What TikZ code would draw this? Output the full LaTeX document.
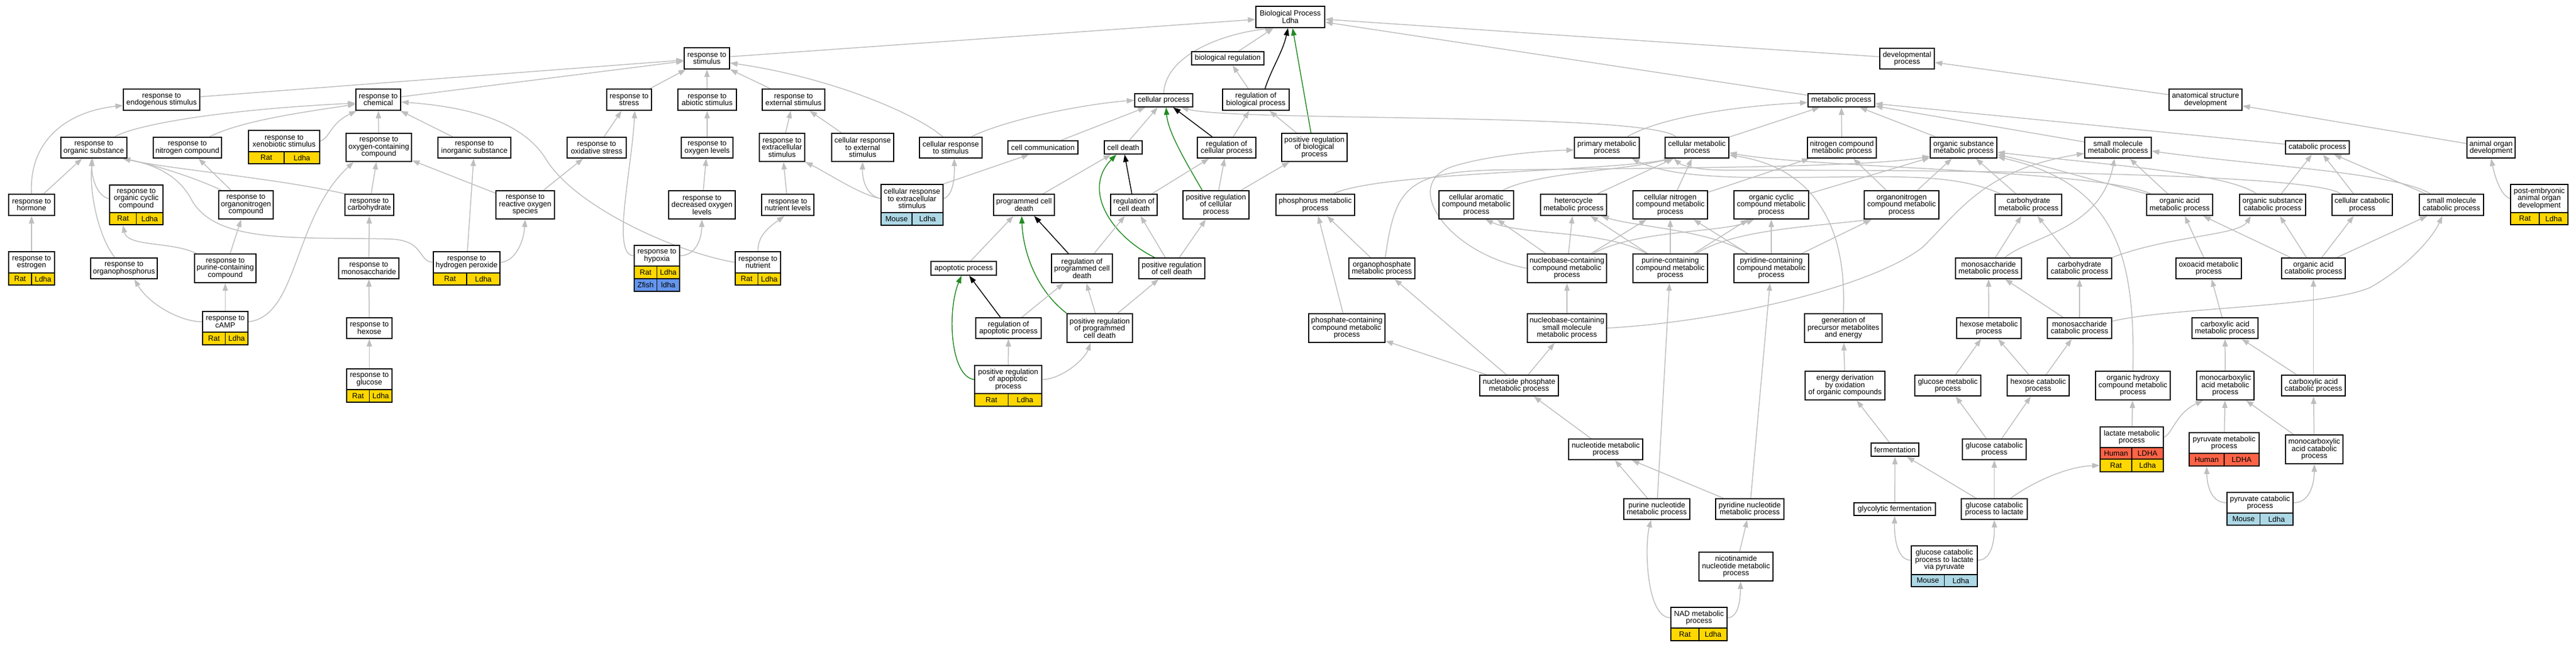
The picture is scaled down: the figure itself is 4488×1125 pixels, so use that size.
\documentclass[tikz,border=0pt]{standalone}
\usepackage{fontspec}
\setmainfont{Liberation Sans}
\usetikzlibrary{arrows.meta}
\pgfdeclarelayer{bg}
\pgfsetlayers{bg,main}
\definecolor{edgec}{RGB}{190,190,190}
\definecolor{ratc}{RGB}{255,215,0}
\definecolor{mousec}{RGB}{173,216,230}
\definecolor{fishc}{RGB}{100,149,237}
\definecolor{humanc}{RGB}{255,99,71}
\definecolor{pregc}{RGB}{34,139,34}
\newcommand\gofont{\fontsize{6.5}{6.25}\selectfont}
\newcommand\gonode[6]{\node[gb, minimum width={(#4-#2)*0.5pt}, minimum height={(#5-#3)*0.5pt}] (#1) at ({#2+(#4-#2)/2},{(#3+#5)/2}) {#6};}
\newcommand\gorow[8]{%
\node[cell, fill=#6, minimum width={(#4-#2)*0.25pt}, minimum height={(#5-#3)*0.5pt}] (#1a) at ({#2+(#4-#2)/4},{(#3+#5)/2}) {#7};%
\node[cell, fill=#6, minimum width={(#4-#2)*0.25pt}, minimum height={(#5-#3)*0.5pt}] (#1b) at ({#4-(#4-#2)/4},{(#3+#5)/2}) {#8};}
\tikzset{
 gb/.style={draw=black, line width=0.9pt, fill=white, inner sep=0pt, align=center, font=\gofont},
 cell/.style={draw=black, line width=0.9pt, inner sep=0pt, font=\gofont},
 isa/.style={draw=edgec, line width=0.75pt, -{Triangle[length=6.5pt,width=4.6pt]}},
 reg/.style={isa, draw=black},
 preg/.style={isa, draw=pregc},
}
\begin{document}
\begin{tikzpicture}[x=0.5pt,y=-0.5pt]
\useasboundingbox (0,0) rectangle (4488,1125);
% ---- nodes ----
\gonode{bp}{2188}{11}{2308}{48}{Biological Process\\Ldha}
\gonode{stim}{1192}{83}{1271}{120}{response to\\stimulus}
\gonode{dev}{3275}{84}{3370}{120}{developmental\\process}
\gonode{biore}{2076}{90}{2202}{113}{biological regulation}
\gonode{endo}{215}{155}{348}{192}{response to\\endogenous stimulus}
\gonode{chem}{620}{155}{698}{192}{response to\\chemical}
\gonode{stress}{1057}{155}{1135}{192}{response to\\stress}
\gonode{abio}{1181}{155}{1283}{192}{response to\\abiotic stimulus}
\gonode{ext}{1328}{155}{1437}{192}{response to\\external stimulus}
\gonode{regbp}{2130}{155}{2246}{192}{regulation of\\biological process}
\gonode{cellp}{1977}{163}{2078}{186}{cellular process}
\gonode{metab}{3150}{163}{3266}{186}{metabolic process}
\gonode{anat}{3779}{155}{3906}{192}{anatomical structure\\development}
% row 3
\gonode{orgsub}{106}{239}{221}{275}{response to\\organic substance}
\gonode{nitro}{267}{239}{386}{275}{response to\\nitrogen compound}
\gonode{xeno}{433}{227}{557}{264}{response to\\xenobiotic stimulus}
\gorow{xeno-}{433}{264}{557}{285}{ratc}{Rat}{Ldha}
\gonode{oxy}{603}{232}{717}{281}{response to\\oxygen-containing\\compound}
\gonode{inorg}{763}{239}{890}{275}{response to\\inorganic substance}
\gonode{oxid}{988}{239}{1091}{275}{response to\\oxidative stress}
\gonode{oxlev}{1187}{239}{1277}{275}{response to\\oxygen levels}
\gonode{extra}{1323}{232}{1402}{281}{response to\\extracellular\\stimulus}
\gonode{crext}{1449}{232}{1557}{281}{cellular response\\to external\\stimulus}
\gonode{crstim}{1602}{239}{1711}{275}{cellular response\\to stimulus}
\gonode{comm}{1756}{245}{1878}{268}{cell communication}
\gonode{death}{1924}{245}{1990}{268}{cell death}
\gonode{regcp}{2086}{239}{2188}{275}{regulation of\\cellular process}
\gonode{posbp}{2233}{232}{2347}{281}{positive regulation\\of biological\\process}
\gonode{prim}{2743}{239}{2856}{275}{primary metabolic\\process}
\gonode{cmet}{2901}{239}{3012}{275}{cellular metabolic\\process}
\gonode{nmet}{3149}{239}{3269}{275}{nitrogen compound\\metabolic process}
\gonode{osm}{3363}{239}{3479}{275}{organic substance\\metabolic process}
\gonode{smm}{3632}{239}{3748}{275}{small molecule\\metabolic process}
\gonode{catab}{3982}{245}{4093}{268}{catabolic process}
\gonode{organ}{4298}{239}{4382}{275}{animal organ\\development}
% row 4
\gonode{hormone}{15}{338}{95}{375}{response to\\hormone}
\gonode{cyclic}{191}{322}{284}{370}{response to\\organic cyclic\\compound}
\gorow{cyclic-}{191}{370}{284}{391}{ratc}{Rat}{Ldha}
\gonode{orgnit}{381}{332}{476}{381}{response to\\organonitrogen\\compound}
\gonode{carb}{601}{338}{686}{375}{response to\\carbohydrate}
\gonode{ros}{864}{332}{966}{381}{response to\\reactive oxygen\\species}
\gonode{decox}{1165}{332}{1281}{381}{response to\\decreased oxygen\\levels}
\gonode{nutlev}{1327}{338}{1418}{375}{response to\\nutrient levels}
\gonode{crextra}{1535}{321}{1643}{370}{cellular response\\to extracellular\\stimulus}
\gorow{crextra-}{1535}{370}{1643}{392}{mousec}{Mouse}{Ldha}
\gonode{pcd}{1731}{338}{1837}{375}{programmed cell\\death}
\gonode{regcd}{1935}{338}{2016}{375}{regulation of\\cell death}
\gonode{poscp}{2061}{332}{2176}{381}{positive regulation\\of cellular\\process}
\gonode{phos}{2223}{338}{2360}{375}{phosphorus metabolic\\process}
\gonode{arom}{2507}{332}{2637}{381}{cellular aromatic\\compound metabolic\\process}
\gonode{hetero}{2684}{338}{2799}{375}{heterocycle\\metabolic process}
\gonode{cnit}{2845}{332}{2975}{381}{cellular nitrogen\\compound metabolic\\process}
\gonode{ocyc}{3021}{332}{3151}{381}{organic cyclic\\compound metabolic\\process}
\gonode{onit}{3248}{332}{3378}{381}{organonitrogen\\compound metabolic\\process}
\gonode{carbm}{3476}{338}{3592}{375}{carbohydrate\\metabolic process}
\gonode{oam}{3740}{338}{3855}{375}{organic acid\\metabolic process}
\gonode{osc}{3902}{338}{4017}{375}{organic substance\\catabolic process}
\gonode{ccat}{4063}{338}{4168}{375}{cellular catabolic\\process}
\gonode{smc}{4215}{338}{4327}{375}{small molecule\\catabolic process}
\gonode{post}{4374}{321}{4474}{370}{post-embryonic\\animal organ\\development}
\gorow{post-}{4374}{370}{4474}{391}{ratc}{Rat}{Ldha}
% row 5
\gonode{estro}{15}{438}{95}{475}{response to\\estrogen}
\gorow{estro-}{15}{475}{95}{496}{ratc}{Rat}{Ldha}
\gonode{ophos}{158}{449}{274}{485}{response to\\organophosphorus}
\gonode{purc}{339}{442}{446}{492}{response to\\purine-containing\\compound}
\gonode{mono}{590}{449}{695}{485}{response to\\monosaccharide}
\gonode{hp}{755}{438}{871}{475}{response to\\hydrogen peroxide}
\gorow{hp-}{755}{475}{871}{496}{ratc}{Rat}{Ldha}
\gonode{hypo}{1105}{427}{1184}{463}{response to\\hypoxia}
\gorow{hypo-r}{1105}{463}{1184}{485}{ratc}{Rat}{Ldha}
\gorow{hypo-z}{1105}{485}{1184}{507}{fishc}{Zfish}{ldha}
\gonode{nut}{1281}{438}{1360}{475}{response to\\nutrient}
\gorow{nut-}{1281}{475}{1360}{496}{ratc}{Rat}{Ldha}
\gonode{apo}{1622}{455}{1736}{479}{apoptotic process}
\gonode{regpcd}{1832}{442}{1938}{492}{regulation of\\programmed cell\\death}
\gonode{poscd}{1984}{449}{2099}{485}{positive regulation\\of cell death}
\gonode{ophm}{2350}{449}{2465}{485}{organophosphate\\metabolic process}
\gonode{nbc}{2661}{442}{2799}{492}{nucleobase-containing\\compound metabolic\\process}
\gonode{pur}{2845}{442}{2975}{492}{purine-containing\\compound metabolic\\process}
\gonode{pyr}{3021}{442}{3151}{492}{pyridine-containing\\compound metabolic\\process}
\gonode{monom}{3407}{449}{3522}{485}{monosaccharide\\metabolic process}
\gonode{carbc}{3567}{449}{3679}{485}{carbohydrate\\catabolic process}
\gonode{oxo}{3791}{449}{3905}{485}{oxoacid metabolic\\process}
\gonode{oac}{3975}{449}{4086}{485}{organic acid\\catabolic process}
% row 6
\gonode{camp}{353}{542}{432}{578}{response to\\cAMP}
\gorow{camp-}{353}{578}{432}{600}{ratc}{Rat}{Ldha}
\gonode{hexr}{604}{553}{683}{589}{response to\\hexose}
\gonode{regapo}{1700}{553}{1814}{589}{regulation of\\apoptotic process}
\gonode{pospcd}{1859}{546}{1973}{596}{positive regulation\\of programmed\\cell death}
\gonode{phc}{2280}{546}{2413}{596}{phosphate-containing\\compound metabolic\\process}
\gonode{nbsm}{2661}{546}{2799}{596}{nucleobase-containing\\small molecule\\metabolic process}
\gonode{gen}{3144}{546}{3279}{596}{generation of\\precursor metabolites\\and energy}
\gonode{hexm}{3409}{553}{3521}{589}{hexose metabolic\\process}
\gonode{monoc}{3567}{553}{3679}{589}{monosaccharide\\catabolic process}
\gonode{carbox}{3819}{553}{3934}{589}{carboxylic acid\\metabolic process}
% row 7
\gonode{glur}{604}{642}{683}{678}{response to\\glucose}
\gorow{glur-}{604}{678}{683}{700}{ratc}{Rat}{Ldha}
\gonode{posapo}{1698}{636}{1815}{685}{positive regulation\\of apoptotic\\process}
\gorow{posapo-}{1698}{685}{1815}{707}{ratc}{Rat}{Ldha}
\gonode{nsp}{2578}{653}{2715}{689}{nucleoside phosphate\\metabolic process}
\gonode{ender}{3145}{646}{3284}{696}{energy derivation\\by oxidation\\of organic compounds}
\gonode{glum}{3336}{653}{3451}{689}{glucose metabolic\\process}
\gonode{hexc}{3497}{653}{3605}{689}{hexose catabolic\\process}
\gonode{ohyd}{3651}{646}{3781}{696}{organic hydroxy\\compound metabolic\\process}
\gonode{mcam}{3827}{646}{3927}{696}{monocarboxylic\\acid metabolic\\process}
\gonode{cacat}{3975}{653}{4086}{689}{carboxylic acid\\catabolic process}
% row 8
\gonode{nucm}{2733}{764}{2862}{800}{nucleotide metabolic\\process}
\gonode{ferm}{3260}{771}{3343}{794}{fermentation}
\gonode{gluc}{3419}{764}{3530}{800}{glucose catabolic\\process}
\gonode{lact}{3659}{743}{3769}{779}{lactate metabolic\\process}
\gorow{lact-h}{3659}{779}{3769}{799}{humanc}{Human}{LDHA}
\gorow{lact-r}{3659}{799}{3769}{821}{ratc}{Rat}{Ldha}
\gonode{pyrm}{3814}{753}{3936}{789}{pyruvate metabolic\\process}
\gorow{pyrm-}{3814}{789}{3936}{811}{humanc}{Human}{LDHA}
\gonode{mcac}{3982}{757}{4082}{807}{monocarboxylic\\acid catabolic\\process}
% row 9
\gonode{purn}{2829}{868}{2944}{904}{purine nucleotide\\metabolic process}
\gonode{pyrn}{2989}{868}{3108}{904}{pyridine nucleotide\\metabolic process}
\gonode{glyf}{3230}{875}{3372}{897}{glycolytic fermentation}
\gonode{glcl}{3417}{868}{3532}{904}{glucose catabolic\\process to lactate}
\gonode{pyrc}{3880}{857}{3995}{893}{pyruvate catabolic\\process}
\gorow{pyrc-}{3880}{893}{3995}{914}{mousec}{Mouse}{Ldha}
% row 10
\gonode{nicot}{2960}{961}{3089}{1011}{nicotinamide\\nucleotide metabolic\\process}
\gonode{glcp}{3330}{950}{3445}{1000}{glucose catabolic\\process to lactate\\via pyruvate}
\gorow{glcp-}{3330}{1000}{3445}{1021}{mousec}{Mouse}{Ldha}
\gonode{nad}{2911}{1057}{3009}{1093}{NAD metabolic\\process}
\gorow{nad-}{2911}{1093}{3009}{1115}{ratc}{Rat}{Ldha}
% ---- edges ----
\begin{pgfonlayer}{bg}
\fill[white] (0,0) rectangle (4488,1125);
% top
\draw[isa] (stim) -- (bp);
\draw[isa] (cellp.north) .. controls (2030,100) and (2120,60) .. ([xshift=15]bp.south west);
\draw[isa] (biore) -- (bp);
\draw[isa] (regbp) -- (biore);
\draw[reg] ([xshift=8]regbp.north) .. controls (2215,120) and (2235,90) .. ([xshift=-2]bp.south);
\draw[preg] ([xshift=-3]posbp.north) -- ([xshift=2]bp.south);
\draw[isa] (posbp) -- (regbp);
\draw[isa] (metab) -- (bp);
\draw[isa] (dev) -- (bp);
\draw[isa] (anat) -- (dev);
\draw[isa] (organ) -- (anat);
\draw[isa] (post.west) .. controls (4355,340) and (4345,300) .. (organ.south);
% stimulus
\draw[isa] (endo) -- (stim);
\draw[isa] (chem) -- (stim);
\draw[isa] (stress) -- (stim);
\draw[isa] (abio) -- (stim);
\draw[isa] (ext) -- (stim);
\draw[isa] ([xshift=-7]crstim.north) .. controls (1600,200) and (1450,135) .. ([yshift=-4]stim.east);
% chemical
\draw[isa] ([xshift=-11]orgsub.north east) .. controls (240,215) and (400,190) .. ([yshift=-3]chem.west);
\draw[isa] ([xshift=-11]nitro.north east) .. controls (420,210) and (530,195) .. ([yshift=-4]chem.west);
\draw[isa] (xeno.east) .. controls (575,240) and (575,215) .. ([xshift=1]chem.south west);
\draw[isa] (oxy) -- (chem);
\draw[isa] (inorg) -- (chem);
\draw[isa] (nut.west) .. controls (1180,440) and (1000,360) .. (950,275) .. controls (905,205) and (800,185) .. ([yshift=-2]chem.east);
% stress
\draw[isa] (oxid) -- (stress);
\draw[isa] (hypo.west) .. controls (1065,445) and (1100,300) .. ([xshift=5]stress.south);
% endogenous / organic substance
\draw[isa] (hormone.north) .. controls (50,250) and (110,195) .. ([yshift=-5]endo.west);
\draw[isa] (hormone) -- (orgsub);
\draw[isa] (estro) -- (hormone);
\draw[isa] (cyclic.west) .. controls (168,340) and (160,310) .. ([xshift=-2]orgsub.south);
\draw[isa] ([xshift=-8]ophos.north) .. controls (170,410) and (155,330) .. ([xshift=-1]orgsub.south);
\draw[isa] ([xshift=3]orgnit.north west) .. controls (330,305) and (260,285) .. ([xshift=-4]orgsub.south east);
\draw[isa] (carb.north west) .. controls (480,310) and (300,295) .. ([xshift=-4]orgsub.south east);
\draw[isa] (hp.west) .. controls (728,455) and (740,418) .. (680,416) .. controls (520,412) and (380,425) .. (335,350) .. controls (310,300) and (260,285) .. ([xshift=-4]orgsub.south east);
\draw[isa] (orgnit) -- (nitro);
\draw[isa] (purc) -- (orgnit);
\draw[isa] ([xshift=2]purc.north west) .. controls (300,420) and (222,430) .. (cyclic-a.south);
\draw[isa] (camp) -- (purc);
\draw[isa] (camp.west) .. controls (315,560) and (260,530) .. ([xshift=9]ophos.south);
\draw[isa] (camp.east) .. controls (520,550) and (510,380) .. ([xshift=7]oxy.south west);
\draw[isa] (carb) -- (oxy);
\draw[isa] (mono) -- (carb);
\draw[isa] (hexr) -- (mono);
\draw[isa] (glur) -- (hexr);
\draw[isa] (ros) -- (oxid);
\draw[isa] (ros) -- (oxy);
\draw[isa] (hp.east) .. controls (895,456) and (912,425) .. (ros.south);
\draw[isa] (hp) -- (inorg);
% abiotic / external
\draw[isa] (oxlev) -- (abio);
\draw[isa] (decox) -- (oxlev);
\draw[isa] (hypo.east) .. controls (1210,445) and (1222,420) .. (decox.south);
\draw[isa] (extra) -- (ext);
\draw[isa] (crext) -- (ext);
\draw[isa] (nutlev) -- (extra);
\draw[isa] (nut.north) .. controls (1320,410) and (1340,395) .. ([xshift=-3]nutlev.south);
\draw[isa] (crextra.west) .. controls (1500,340) and (1440,300) .. (extra.south east);
\draw[isa] (crextra.west) .. controls (1508,340) and (1502,310) .. (crext.south);
\draw[isa] (crextra.east) .. controls (1663,340) and (1663,300) .. ([xshift=3]crstim.south);
\draw[isa] (crextra.north east) -- ([xshift=-12]comm.south);
% cellular process
\draw[isa] ([xshift=-10]crstim.north east) .. controls (1760,205) and (1900,180) .. (cellp.west);
\draw[isa] (comm) -- (cellp);
\draw[isa] (death) -- (cellp);
\draw[reg] (regcp) -- (cellp);
\draw[preg] ([xshift=-12]poscp.north) .. controls (2065,280) and (2035,230) .. ([xshift=2]cellp.south);
\draw[isa] (regcp) -- (regbp);
\draw[isa] (poscp) -- (regcp);
\draw[isa] (poscp) -- (posbp);
\draw[isa] ([xshift=10]cmet.north west) .. controls (2870,195) and (2150,212) .. ([xshift=15]cellp.south);
\draw[isa] (regcd) -- (regcp);
% cell death
\draw[isa] (pcd) -- (death);
\draw[reg] (regcd) -- (death);
\draw[preg] ([xshift=-15]poscd.north) .. controls (1935,410) and (1885,330) .. ([xshift=-6]death.south);
\draw[isa] (apo) -- (pcd);
\draw[reg] (regpcd) -- (pcd);
\draw[isa] (regpcd) -- (regcd);
\draw[isa] (poscd) -- (regcd);
\draw[isa] (poscd) -- (poscp);
\draw[preg] (pospcd.north west) .. controls (1800,500) and (1782,430) .. ([xshift=-2]pcd.south);
\draw[isa] (pospcd) -- (regpcd);
\draw[isa] (pospcd) -- (poscd);
\draw[reg] (regapo) -- (apo);
\draw[isa] (regapo) -- (regpcd);
\draw[preg] (posapo.west) .. controls (1655,655) and (1650,540) .. ([xshift=-2]apo.south);
\draw[isa] (posapo) -- (regapo);
\draw[isa] (posapo.east) .. controls (1850,660) and (1890,625) .. ([xshift=-8]pospcd.south);
% metabolic
\draw[isa] ([xshift=-11]prim.north east) .. controls (2900,200) and (3050,183) .. ([yshift=-2]metab.west);
\draw[isa] (cmet) -- (metab);
\draw[isa] (nmet) -- (metab);
\draw[isa] (osm) -- (metab);
\draw[isa] (smm) -- (metab);
\draw[isa] (catab) -- (metab);
\draw[isa] ([xshift=16]phos.north) .. controls (2400,300) and (2800,298) .. ([xshift=6]cmet.south west);
\draw[isa] ([xshift=-10]arom.north east) .. controls (2680,300) and (2820,298) .. ([xshift=6]cmet.south west);
\draw[isa] (hetero) -- (cmet);
\draw[isa] (cnit) -- (cmet);
\draw[isa] (cnit) -- (nmet);
\draw[isa] (ocyc) -- (osm);
\draw[isa] (onit) -- (nmet);
\draw[isa] (onit) -- (osm);
\draw[isa] (ophm) -- (phos);
\draw[isa] ([xshift=3]ophm.north) .. controls (2430,330) and (2450,300) .. (2600,296) .. controls (2900,292) and (3250,292) .. ([yshift=2]osm.south west);
\draw[isa] ([xshift=5]carbm.north west) .. controls (3400,300) and (3300,308) .. (3100,309) .. controls (2950,310) and (2890,298) .. ([xshift=-7]prim.south east);
\draw[isa] (carbm) -- (osm);
\draw[isa] (nbc.west) .. controls (2520,440) and (2440,320) .. (2530,290) .. controls (2600,268) and (2700,262) .. ([yshift=-2]prim.west);
\draw[isa] (nbc) -- (arom);
\draw[isa] (nbc) -- (hetero);
\draw[isa] (nbc) -- (cnit);
\draw[isa] ([xshift=-12]nbc.north east) .. controls (2850,400) and (3000,405) .. ([xshift=-15]ocyc.south);
\draw[isa] ([xshift=12]pur.north west) .. controls (2800,400) and (2650,410) .. ([xshift=8]arom.south);
\draw[isa] (pur) -- (hetero);
\draw[isa] (pur) -- (cnit);
\draw[isa] (pur) -- (ocyc);
\draw[isa] ([xshift=-10]pur.north east) .. controls (3020,400) and (3150,395) .. ([xshift=6]onit.south west);
\draw[isa] ([xshift=12]pyr.north west) .. controls (2980,400) and (2850,395) .. ([xshift=-5]hetero.south east);
\draw[isa] (pyr) -- (cnit);
\draw[isa] (pyr) -- (ocyc);
\draw[isa] (pyr) -- (onit);
\draw[isa] (nbsm) -- (nbc);
\draw[isa] (nbsm.east) .. controls (3000,560) and (3260,500) .. (3350,430) .. controls (3420,360) and (3460,295) .. ([yshift=-5]smm.west);
\draw[isa] (nsp) -- (phc);
\draw[isa] (nsp) -- (nbsm);
\draw[isa] (nsp) -- (ophm);
\draw[isa] (phc) -- (phos);
\draw[isa] (nucm) -- (nsp);
\draw[isa] (purn) -- (nucm);
\draw[isa] (pyrn) -- (nucm);
\draw[isa] (purn) -- (pur);
\draw[isa] (pyrn) -- (pyr);
\draw[isa] (nicot) -- (pyrn);
\draw[isa] (nad.west) .. controls (2868,1075) and (2865,950) .. ([xshift=-5]purn.south);
\draw[isa] (nad.east) .. controls (3030,1075) and (3032,1040) .. ([xshift=4]nicot.south);
\draw[isa] (gen.north) .. controls (3219,380) and (3150,290) .. ([yshift=3]cmet.south east);
\draw[isa] (ender) -- (gen);
\draw[isa] (ferm) -- (ender);
\draw[isa] (glyf) -- (ferm);
\draw[isa] (glcp.west) .. controls (3305,975) and (3300,935) .. (glyf.south);
\draw[isa] (glcp.east) .. controls (3470,975) and (3475,940) .. (glcl.south);
\draw[isa] (glcl) -- (ferm);
\draw[isa] (glcl) -- (gluc);
\draw[isa] ([xshift=-15]glcl.north east) .. controls (3540,840) and (3600,812) .. (lact-ra.west);
\draw[isa] (gluc) -- (glum);
\draw[isa] (gluc) -- (hexc);
\draw[isa] (glum) -- (hexm);
\draw[isa] (hexc) -- (hexm);
\draw[isa] (hexc) -- (monoc);
\draw[isa] (hexm) -- (monom);
\draw[isa] (monoc) -- (monom);
\draw[isa] (monoc) -- (carbc);
\draw[isa] ([yshift=6]monoc.east) .. controls (3780,535) and (4050,535) .. (4130,500) .. controls (4200,460) and (4240,410) .. ([xshift=-8]smc.south);
\draw[isa] (monom) -- (carbm);
\draw[isa] ([xshift=-15]monom.north east) .. controls (3540,410) and (3660,400) .. ([xshift=-3]smm.south);
\draw[isa] (carbc) -- (carbm);
\draw[isa] (carbc.north east) .. controls (3780,410) and (3900,410) .. ([xshift=-19]osc.south);
\draw[isa] (oxo) -- (oam);
\draw[isa] (oac) -- (oam);
\draw[isa] (oac) -- (osc);
\draw[isa] (oac) -- (ccat);
\draw[isa] (oac) -- (smc);
\draw[isa] (carbox) -- (oxo);
\draw[isa] (cacat) -- (carbox);
\draw[isa] (cacat) -- (oac);
\draw[isa] (mcam) -- (carbox);
\draw[isa] (lact) -- (ohyd);
\draw[isa] (lact.east) .. controls (3785,755) and (3790,720) .. ([xshift=6]mcam.south west);
\draw[isa] (pyrm) -- (mcam);
\draw[isa] (mcac) -- (mcam);
\draw[isa] (mcac) -- (cacat);
\draw[isa] (pyrc.west) .. controls (3850,875) and (3845,840) .. (pyrm-a.south);
\draw[isa] (pyrc.east) .. controls (4025,875) and (4032,840) .. (mcac.south);
\draw[isa] (ohyd.north) .. controls (3720,450) and (3690,320) .. ([yshift=-8]osm.east);
\draw[isa] (oam.north west) .. controls (3650,315) and (3550,285) .. ([yshift=-6]osm.east);
\draw[isa] ([xshift=15]osc.north west) .. controls (3880,300) and (3650,285) .. ([yshift=-4]osm.east);
\draw[isa] ([xshift=4]oam.north west) .. controls (3650,295) and (3150,292) .. ([yshift=5]cmet.south east);
\draw[isa] (oam) -- (smm);
\draw[isa] ([xshift=8]ccat.north west) .. controls (4020,298) and (3300,296) .. (3000,296) .. controls (2960,296) and (2930,288) .. ([xshift=8]cmet.south west);
\draw[isa] (osc) -- (catab);
\draw[isa] (ccat) -- (catab);
\draw[isa] (smc) -- (catab);
\draw[isa] ([xshift=10]smc.north west) .. controls (4170,300) and (3950,290) .. ([yshift=-3]smm.east);
\end{pgfonlayer}
\end{tikzpicture}
\end{document}
